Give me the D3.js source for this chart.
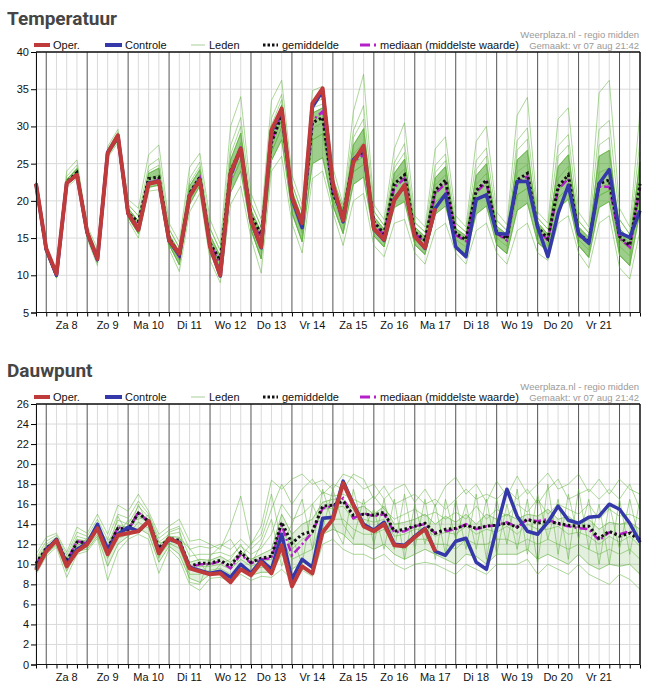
<!DOCTYPE html>
<html>
<head>
<meta charset="utf-8">
<script src="https://cdn.jsdelivr.net/npm/d3@7"></script>
<style>
body { margin: 0; background: #fff; }
svg { display: block; font-family: Arial, "Liberation Sans", sans-serif; }
</style>
</head>
<body>
<svg id="chart" width="651" height="693"></svg>
<script>
// tijdas: 6-uurlijkse stappen vanaf vr 7 aug 18:00
var START = new Date(2020, 7, 7, 18, 0);
var EINDE = new Date(2020, 7, 22, 12, 0);
var dagLabels = ["Za 8","Zo 9","Ma 10","Di 11","Wo 12","Do 13","Vr 14","Za 15","Zo 16","Ma 17","Di 18","Wo 19","Do 20","Vr 21"];
var tempTicks = [5,10,15,20,25,30,35,40];
var dauwTicks = [0,2,4,6,8,10,12,14,16,18,20,22,24,26];

// ---- Temperatuur ----
var tempOper = [22.3,13.6,10.2,22.4,23.5,15.8,12.2,26.4,28.8,18.3,16.1,22.3,22.6,14.7,12.9,20.6,22.8,13.8,10.0,23.7,
  27.0,17.4,13.8,29.5,32.4,20.5,17.0,33.1,35.1,22.3,17.4,25.2,27.4,16.3,14.8,20.1,22.1,15.2,13.7,19.0,
  null,null,null,null,null,null,null,null,null,null,null,null,null,null,null,null,null,null,null,null];
var tempControle = [22.3,13.5,10.0,22.4,23.5,15.7,12.1,26.5,28.7,18.3,16.1,22.4,22.6,14.6,12.7,20.7,22.9,13.9,9.9,23.5,
  27.0,17.3,13.7,29.3,32.2,20.3,16.4,32.6,34.8,22.0,17.2,25.5,27.0,16.2,14.7,20.2,22.0,15.3,13.6,19.0,
  20.9,13.8,12.5,20.2,20.8,15.6,15.5,22.6,22.6,16.5,12.5,18.3,22.1,15.6,14.3,22.3,24.2,15.7,15.1,18.7];
var tempGemiddelde = [22.3,13.4,10.0,22.5,23.8,15.7,12.2,26.5,28.5,18.3,17.2,23.0,23.2,15.0,12.8,21.0,23.2,14.3,12.0,24.0,
  27.0,18.0,15.5,27.8,31.5,20.6,16.9,30.5,31.2,21.0,18.1,25.5,26.7,17.2,15.6,22.3,23.5,15.8,14.7,21.4,
  22.8,15.6,14.8,21.4,22.8,15.8,14.9,22.8,23.7,16.5,14.9,21.9,23.5,15.6,14.5,22.3,22.8,15.2,14.0,22.3];
var tempMediaan = [22.3,13.4,10.0,22.4,23.6,15.7,12.2,26.6,28.6,18.4,16.5,22.5,22.8,14.8,12.5,20.8,23.1,14.3,11.3,22.9,
  27.3,17.7,14.8,28.0,31.8,20.5,16.8,30.8,32.0,20.8,18.0,25.3,26.2,17.0,15.4,21.8,23.0,15.6,14.5,21.0,
  22.3,15.4,14.6,21.2,22.5,15.6,14.7,22.4,23.3,16.2,14.7,21.5,23.0,15.4,14.3,21.9,21.9,15.0,13.8,21.8];
var tempLeden = [
  [22.6,13.9,10.6,24.0,25.5,16.6,13.6,27.3,29.6,20.2,19.0,26.2,27.5,17.0,14.5,24.5,26.4,17.5,14.2,30.0,34.0,21.0,17.5,33.5,36.2,23.5,19.5,34.8,35.4,24.5,19.5,32.0,37.0,19.5,17.5,27.0,30.5,18.0,16.5,27.0,28.6,18.0,16.5,28.0,30.0,18.5,16.8,31.5,33.9,18.5,17.0,31.0,32.5,18.5,16.5,34.5,36.2,19.0,16.5,32.0],
  [22.5,13.7,10.4,23.3,24.8,16.2,13.0,27.0,29.2,19.5,18.0,24.7,25.7,16.2,13.7,23.0,25.2,16.3,13.3,27.4,31.2,19.7,16.5,31.1,34.3,22.3,18.4,33.1,33.7,23.1,19.0,29.4,32.8,18.6,16.7,25.1,27.7,17.1,15.8,24.8,26.3,17.0,15.8,25.4,27.1,17.4,16.0,28.1,29.8,17.7,16.2,27.4,28.9,17.3,15.7,29.6,30.8,17.5,15.5,28.1],
  [22.4,13.6,10.2,22.9,24.3,15.9,12.6,26.7,28.8,19.0,17.3,23.7,24.4,15.5,13.2,22.0,24.2,15.4,12.6,25.5,29.1,18.8,15.8,29.3,32.9,21.4,17.6,31.8,32.5,22.1,18.6,27.5,29.7,17.9,16.2,23.7,25.6,16.5,15.2,23.1,24.6,16.3,15.3,23.4,25.0,16.6,15.5,25.5,26.8,17.1,15.5,24.6,26.2,16.5,15.1,26.0,26.8,16.3,14.8,25.2],
  [22.3,13.5,10.1,22.6,24.0,15.8,12.3,26.6,28.6,18.7,16.8,23.0,23.5,15.1,12.8,21.4,23.5,14.8,12.1,24.3,27.8,18.2,15.3,28.2,32.1,20.9,17.1,31.0,31.7,21.4,18.3,26.3,27.8,17.5,15.8,22.9,24.3,16.1,14.9,22.1,23.5,15.9,15.0,22.2,23.7,16.1,15.1,23.9,24.9,16.7,15.2,23.0,24.6,16.0,14.7,23.8,24.4,15.7,14.3,23.5],
  [22.3,13.3,9.9,22.4,23.7,15.6,12.1,26.4,28.4,18.4,16.4,22.5,22.9,14.8,12.4,20.8,23.0,14.3,11.6,23.1,26.5,17.5,14.5,27.1,31.0,20.1,16.4,29.8,30.5,20.7,17.7,24.9,26.0,16.9,15.3,21.8,22.9,15.5,14.4,20.9,22.2,15.3,14.5,20.9,22.2,15.5,14.6,22.1,23.0,16.1,14.6,21.4,22.9,15.3,14.2,21.8,22.3,14.8,13.5,21.7],
  [22.2,13.2,9.8,22.3,23.5,15.4,11.9,26.3,28.3,18.2,16.1,22.2,22.5,14.5,12.0,20.3,22.6,13.8,11.0,22.3,25.5,17.0,13.6,26.5,29.9,19.5,15.7,28.2,29.0,20.2,16.9,23.9,24.9,16.2,14.7,20.7,21.7,15.0,13.7,19.8,21.1,14.8,13.8,19.8,21.1,15.0,13.9,20.8,21.7,15.5,14.0,20.4,21.8,14.8,13.4,20.7,21.4,13.9,12.6,20.4],
  [22.0,13.1,9.7,22.1,23.3,15.2,11.7,26.1,28.1,17.8,15.6,21.8,22.1,14.1,11.4,19.5,22.0,13.0,10.2,21.1,24.0,16.1,12.2,25.4,28.2,18.4,14.5,25.0,25.8,19.4,15.6,22.2,23.2,15.3,13.8,19.1,19.9,14.1,12.8,18.2,19.3,14.0,12.8,18.2,19.3,14.1,12.9,18.7,19.7,14.4,13.2,19.0,20.2,14.0,12.4,19.1,19.9,12.7,11.3,18.5],
  [21.9,12.9,9.6,21.8,23.0,14.9,11.3,25.8,27.8,17.4,15.0,21.3,21.5,13.5,10.5,18.5,21.0,12.0,9.0,19.5,22.0,15.0,10.3,24.0,26.0,17.0,13.0,23.0,24.0,18.5,14.0,20.0,21.0,14.0,12.5,17.0,17.5,13.0,11.5,16.0,17.0,13.0,11.5,16.0,17.0,13.0,11.5,16.0,17.0,13.0,12.0,17.0,18.0,13.0,11.0,17.0,18.0,11.0,9.5,16.0],
  [22.4,13.1,9.7,22.8,24.4,15.2,11.7,26.8,29.0,17.8,15.6,24.0,24.8,14.1,11.4,22.4,24.6,13.0,10.2,26.2,30.0,16.1,12.2,30.2,33.6,18.4,14.5,32.5,33.0,19.4,15.6,28.5,31.0,15.3,13.8,24.4,26.5,14.1,12.8,23.8,25.4,14.0,12.8,24.2,26.0,14.1,12.9,26.8,28.3,14.4,13.2,26.0,27.5,14.0,12.4,27.5,28.5,12.7,11.3,26.5],
  [22.2,13.7,10.4,22.3,23.5,16.2,13.0,26.3,28.3,19.5,18.0,22.2,22.5,16.2,13.7,20.3,22.6,16.3,13.3,22.3,25.5,19.7,16.5,26.5,29.9,22.3,18.4,28.2,29.0,23.1,19.0,23.9,24.9,18.6,16.7,20.7,21.7,17.1,15.8,19.8,21.1,17.0,15.8,19.8,21.1,17.4,16.0,20.8,21.7,17.7,16.2,20.4,21.8,17.3,15.7,20.7,21.4,17.5,15.5,20.4]
];

// ---- Dauwpunt ----
var dauwOper = [9.4,11.3,12.4,9.8,11.3,12.0,13.6,11.0,12.9,13.1,13.3,14.3,11.1,12.6,12.1,9.6,9.3,9.0,9.1,8.2,
  9.5,8.9,10.2,9.1,11.9,7.8,9.8,9.1,13.2,14.5,18.1,15.9,13.8,13.3,14.0,11.9,11.8,12.7,13.5,11.3,
  null,null,null,null,null,null,null,null,null,null,null,null,null,null,null,null,null,null,null,null];
var dauwControle = [9.6,11.4,12.5,10.0,11.5,12.1,14.0,11.5,13.0,13.7,13.3,14.3,11.3,12.5,12.2,9.7,9.4,9.1,9.3,8.7,
  10.0,9.1,10.4,9.5,13.0,8.5,10.5,9.7,14.6,14.7,18.3,16.0,14.0,13.4,14.2,12.0,11.9,12.8,13.6,11.3,
  10.9,12.3,12.6,10.2,9.5,13.6,17.5,14.8,13.3,13.0,14.2,15.8,14.4,14.1,14.7,14.8,16.0,15.5,14.1,12.2];
var dauwGemiddelde = [10.1,11.6,12.4,10.3,12.2,12.2,13.5,11.6,13.6,13.5,15.1,14.3,11.6,12.6,12.4,9.8,10.1,10.1,10.4,9.8,
  11.2,10.2,10.6,10.8,14.2,12.1,13.0,13.3,15.8,15.9,16.3,14.9,15.0,14.9,15.2,13.3,13.5,13.8,14.1,13.1,
  13.5,13.6,13.9,13.6,13.8,13.9,14.1,13.7,14.5,14.1,14.3,14.1,13.9,13.8,13.8,12.6,13.3,12.8,13.1,12.4];
var dauwMediaan = [10.0,11.6,12.4,10.2,12.3,12.1,13.5,11.5,13.7,13.4,15.2,14.2,11.5,12.5,12.3,9.7,10.0,10.0,10.3,9.6,
  11.0,10.1,10.5,10.6,13.9,10.9,12.0,13.2,15.6,15.8,16.6,14.6,15.1,14.8,15.0,13.2,13.3,13.8,14.0,13.1,
  13.3,13.5,14.0,13.5,13.8,13.9,14.2,13.7,14.5,14.3,14.5,14.0,13.8,13.6,13.5,12.4,13.2,13.0,13.3,12.5];
var dauwLeden = [
  [11.0,12.7,13.1,11.2,13.7,13.1,15.0,13.0,15.9,15.3,17.0,15.3,13.0,13.8,14.5,12.3,12.5,12.0,11.5,13.8,16.8,12.0,13.8,18.4,17.5,18.5,19.0,18.0,18.4,17.5,19.0,18.6,17.5,18.0,16.5,17.5,18.0,16.2,17.5,15.8,17.8,18.7,17.0,18.0,16.2,18.3,16.8,18.8,17.0,18.0,19.1,17.5,18.0,19.0,17.2,18.5,17.0,18.5,17.5,17.0],
  [10.6,12.3,12.9,10.9,13.2,12.8,14.5,12.5,15.0,14.6,16.3,15.0,12.6,13.4,13.8,11.5,11.8,11.6,12.0,11.5,12.5,11.5,12.5,15.5,18.0,16.0,17.5,18.5,17.0,18.0,17.5,19.0,18.5,16.5,17.8,16.0,16.5,17.0,16.0,16.5,15.5,16.5,17.5,16.5,17.0,16.5,17.5,16.5,17.5,16.0,17.5,18.5,16.5,17.0,17.5,16.5,17.5,16.5,18.0,15.5],
  [10.4,12.0,12.7,10.6,12.8,12.5,14.0,12.0,14.4,14.0,15.8,14.7,12.2,13.0,13.2,10.8,11.0,11.0,11.2,10.8,11.8,11.0,11.6,13.0,16.0,14.5,15.0,16.0,17.2,16.8,17.0,16.5,16.0,16.8,15.5,14.5,15.0,15.5,14.8,15.2,14.5,15.2,14.5,15.8,14.5,15.5,14.8,16.0,15.2,16.5,15.0,16.0,15.5,15.0,16.0,14.5,15.5,14.8,15.0,14.5],
  [10.2,11.8,12.5,10.4,12.5,12.3,13.7,11.7,13.9,13.7,15.3,14.4,11.9,12.8,12.7,10.2,10.5,10.4,10.8,10.2,11.3,10.5,11.0,11.5,15.0,13.0,14.0,14.5,16.2,16.5,16.5,15.5,15.8,15.0,15.8,14.0,14.2,14.5,15.0,14.0,14.8,14.2,15.0,14.0,15.0,14.5,15.0,14.5,15.0,14.8,15.5,14.5,14.8,14.0,14.5,13.5,14.2,14.0,14.2,13.5],
  [9.9,11.5,12.3,10.1,12.0,12.0,13.3,11.3,13.3,13.3,14.8,14.1,11.4,12.5,12.2,9.5,9.8,9.8,10.0,9.5,10.5,9.8,10.2,10.5,13.8,11.5,12.5,13.0,15.5,15.6,15.8,14.5,14.5,14.2,14.5,12.8,13.0,13.5,13.5,12.8,13.2,13.0,13.8,13.0,13.5,13.2,13.8,13.0,14.0,13.5,13.5,13.8,13.0,13.2,12.8,12.0,12.8,12.2,12.8,11.8],
  [9.6,11.2,12.0,9.7,11.6,11.8,13.0,10.6,12.6,13.0,14.2,13.6,10.8,12.1,11.6,9.0,9.0,9.4,9.6,9.0,10.0,9.4,9.7,9.8,12.5,10.5,11.0,11.5,14.5,14.5,14.5,13.5,13.0,13.0,13.5,12.0,11.5,12.5,12.5,12.0,12.0,11.5,12.5,12.0,12.0,12.5,12.5,12.0,12.5,12.0,12.5,12.0,11.5,12.0,11.5,11.0,11.5,11.0,11.5,10.5],
  [9.3,11.0,11.9,9.3,11.3,11.5,12.8,9.8,12.0,12.8,13.6,13.0,10.2,11.8,11.0,8.6,8.2,9.0,9.2,8.7,9.5,8.9,9.2,9.2,11.0,9.5,10.2,10.0,13.0,13.5,13.0,12.0,12.0,11.5,12.0,11.0,10.5,11.0,11.5,11.0,10.5,10.0,11.0,10.8,10.0,11.0,11.0,11.0,11.5,10.5,11.0,10.5,10.0,11.0,10.0,9.5,10.0,9.8,10.0,9.0],
  [9.0,10.8,11.7,8.7,11.0,11.3,12.6,8.4,11.3,12.5,13.0,12.5,9.1,11.5,10.5,8.0,7.4,8.6,8.7,8.3,9.0,8.4,8.8,8.7,9.5,8.5,9.4,8.8,12.0,12.5,11.5,11.0,11.0,10.5,11.0,10.0,9.5,10.0,10.2,10.0,9.5,9.0,10.0,9.5,9.0,10.0,10.0,10.0,10.5,9.0,10.0,9.5,9.0,10.0,9.0,8.5,8.0,9.0,8.5,7.5],
  [10.3,11.4,12.6,9.8,12.4,11.6,14.2,11.0,14.8,12.9,16.0,13.8,10.6,13.2,13.6,8.2,8.0,10.8,11.8,12.5,10.8,12.0,13.0,17.0,12.0,14.0,16.5,11.5,17.5,14.0,12.0,17.5,13.5,15.5,11.5,16.5,10.5,16.0,12.0,16.0,11.0,16.5,11.5,17.0,10.5,16.5,12.0,17.5,11.0,17.0,12.5,16.5,10.5,17.5,11.5,16.0,10.0,16.5,11.0,16.5],
  [9.8,11.8,12.2,10.6,11.8,12.6,13.5,12.4,13.0,14.4,14.5,14.9,12.2,12.0,12.6,11.6,10.2,8.8,10.0,10.5,12.0,10.0,12.0,14.5,9.8,12.8,10.0,16.0,13.5,17.5,14.0,12.5,16.5,12.0,16.5,11.5,17.0,11.5,16.5,10.5,16.5,12.5,16.0,11.5,16.5,11.0,16.0,11.5,16.5,10.0,18.0,11.0,17.0,12.5,16.5,10.0,16.0,11.5,16.5,12.0]
];

var svg = d3.select("#chart");
var tijden = d3.range(tempGemiddelde.length).map(function (i) { return d3.timeHour.offset(START, 6 * i); });
var x = d3.scaleTime().domain([START, EINDE]).range([36, 640]);
var kleurOper = "#bf3b3b", kleurControle = "#3438a8", kleurLeden = "#5cb236",
    kleurKern = "#3d9d18", kleurMediaan = "#b51fc9";

// kern: welke twee leden-rijen de dichte middenband begrenzen
function paneel(top, titel, ticks, oper, controle, gemiddelde, mediaan, leden, kern, kernDekking) {
    var bodem = top + 260.5;
    var y = d3.scaleLinear().domain([ticks[0], ticks[ticks.length - 1]]).range([bodem, top]);
    var g = svg.append("g");

    g.append("text").text(titel)
        .attr("x", 7).attr("y", top - 27)
        .attr("font-family", "Roboto, Arial, sans-serif")
        .attr("font-weight", "bold").attr("font-size", "19px")
        .attr("fill", "#454545");

    // rasterlijnen
    g.selectAll(".hgrid").data(ticks).enter().append("line")
        .attr("x1", 36).attr("x2", 640)
        .attr("y1", function (d) { return y(d); }).attr("y2", function (d) { return y(d); })
        .attr("stroke", "#dadada").attr("stroke-width", 1);
    var zesUur = d3.timeHour.every(6).range(START, EINDE);
    g.selectAll(".vgrid").data(zesUur).enter().append("line")
        .attr("x1", function (d) { return x(d); }).attr("x2", function (d) { return x(d); })
        .attr("y1", top).attr("y2", bodem)
        .attr("stroke", function (d) { return d.getHours() == 0 ? "#555" : "#dadada"; })
        .attr("stroke-width", 1);

    // leden
    var lijn = d3.line()
        .defined(function (d) { return d != null; })
        .x(function (d, i) { return x(tijden[i]); })
        .y(function (d) { return y(d); });
    var band = d3.area()
        .x(function (d, i) { return x(tijden[i]); })
        .y0(function (d, i) { return y(leden[kern[1]][i]); })
        .y1(function (d, i) { return y(leden[kern[0]][i]); });
    g.append("path").attr("d", band(tijden))
        .attr("fill", kleurKern).attr("fill-opacity", kernDekking)
        .attr("stroke", kleurKern).attr("stroke-opacity", kernDekking).attr("stroke-width", 1);
    g.selectAll(".lid").data(leden).enter().append("path")
        .attr("d", lijn).attr("fill", "none")
        .attr("stroke", kleurLeden).attr("stroke-width", 1)
        .attr("stroke-opacity", 0.5);

    g.append("path").attr("d", lijn(mediaan)).attr("fill", "none")
        .attr("stroke", kleurMediaan).attr("stroke-width", 2.5)
        .attr("stroke-dasharray", "8,3,2,3");
    g.append("path").attr("d", lijn(gemiddelde)).attr("fill", "none")
        .attr("stroke", "#111").attr("stroke-width", 3)
        .attr("stroke-dasharray", "2.5,2.5");
    g.append("path").attr("d", lijn(controle)).attr("fill", "none")
        .attr("stroke", kleurControle).attr("stroke-width", 3.5)
        .attr("stroke-linejoin", "round");
    g.append("path").attr("d", lijn(oper)).attr("fill", "none")
        .attr("stroke", kleurOper).attr("stroke-width", 4)
        .attr("stroke-linejoin", "round");

    // assen en kader
    var yAs = d3.axisLeft(y).tickValues(ticks).tickSize(5).tickPadding(2);
    var ya = g.append("g").attr("transform", "translate(36,0)").call(yAs);
    ya.selectAll("text").attr("font-size", "11px").attr("fill", "#111")
        .attr("font-family", "Arial, 'Liberation Sans', sans-serif");
    ya.select(".domain").attr("stroke", "#111");

    var xAs = d3.axisBottom(x).tickValues(tijden).tickSize(4).tickFormat("");
    var xa = g.append("g").attr("transform", "translate(0," + bodem + ")").call(xAs);
    xa.select(".domain").remove();
    g.append("line").attr("x1", 36).attr("x2", 640).attr("y1", bodem).attr("y2", bodem)
        .attr("stroke", "#111");
    g.append("line").attr("x1", 36).attr("x2", 640).attr("y1", top).attr("y2", top)
        .attr("stroke", "#111").attr("stroke-width", 1.5);
    g.append("line").attr("x1", 640).attr("x2", 640).attr("y1", top).attr("y2", bodem)
        .attr("stroke", "#111").attr("stroke-width", 1.5);

    g.selectAll(".dag").data(dagLabels).enter().append("text")
        .text(function (d) { return d; })
        .attr("x", function (d, i) { return x(new Date(2020, 7, 8 + i, 12)); })
        .attr("y", bodem + 16)
        .attr("text-anchor", "middle").attr("font-size", "11px").attr("fill", "#111");

    // legenda
    var ly = top - 7;
    var leg = g.append("g").attr("font-size", "11px").attr("fill", "#111");
    leg.append("line").attr("x1", 34).attr("x2", 50).attr("y1", ly).attr("y2", ly)
        .attr("stroke", kleurOper).attr("stroke-width", 4);
    leg.append("text").text("Oper.").attr("x", 53).attr("y", ly + 4);
    leg.append("line").attr("x1", 105).attr("x2", 122).attr("y1", ly).attr("y2", ly)
        .attr("stroke", kleurControle).attr("stroke-width", 4);
    leg.append("text").text("Controle").attr("x", 125).attr("y", ly + 4);
    leg.append("line").attr("x1", 191).attr("x2", 205).attr("y1", ly).attr("y2", ly)
        .attr("stroke", "#a9cf98").attr("stroke-width", 1);
    leg.append("text").text("Leden").attr("x", 209).attr("y", ly + 4);
    leg.append("line").attr("x1", 263).attr("x2", 278).attr("y1", ly).attr("y2", ly)
        .attr("stroke", "#111").attr("stroke-width", 3).attr("stroke-dasharray", "2.5,2");
    leg.append("text").text("gemiddelde").attr("x", 282).attr("y", ly + 4);
    leg.append("line").attr("x1", 360).attr("x2", 378).attr("y1", ly).attr("y2", ly)
        .attr("stroke", kleurMediaan).attr("stroke-width", 3).attr("stroke-dasharray", "10,4,2,6");
    leg.append("text").text("mediaan (middelste waarde)").attr("x", 380).attr("y", ly + 4);

    g.append("text").text("Weerplaza.nl - regio midden")
        .attr("x", 639).attr("y", top - 14).attr("text-anchor", "end")
        .attr("font-size", "9.5px").attr("fill", "#9a9a9a");
    g.append("text").text("Gemaakt: vr 07 aug 21:42")
        .attr("x", 639).attr("y", top - 3.5).attr("text-anchor", "end")
        .attr("font-size", "9.5px").attr("fill", "#9a9a9a");
}

paneel(52, "Temperatuur", tempTicks, tempOper, tempControle, tempGemiddelde, tempMediaan, tempLeden, [2, 6], 0.5);
paneel(404, "Dauwpunt", dauwTicks, dauwOper, dauwControle, dauwGemiddelde, dauwMediaan, dauwLeden, [3, 6], 0.15);
</script>
</body>
</html>
